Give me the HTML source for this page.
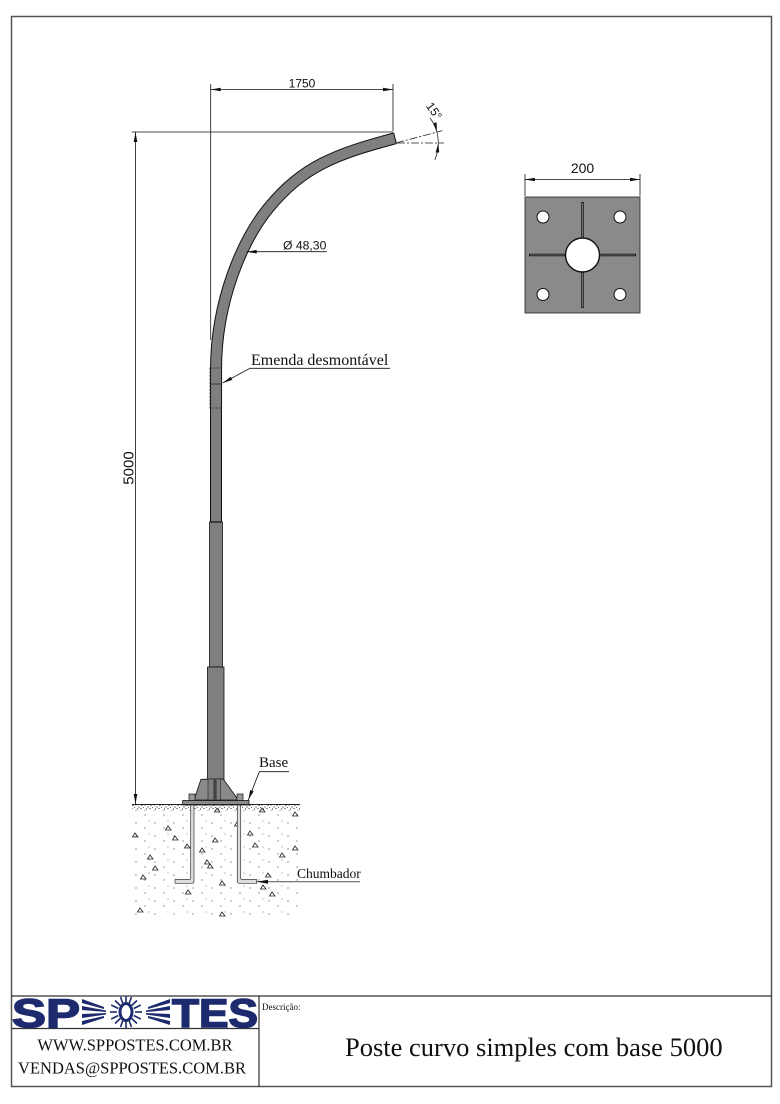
<!DOCTYPE html>
<html><head><meta charset="utf-8"><style>
html,body{margin:0;padding:0;background:#fff;}
svg{display:block;}
.sans{font-family:"Liberation Sans",Arial,sans-serif;}
.serif{font-family:"Liberation Serif","Times New Roman",serif;}
</style></head><body>
<svg width="780" height="1104" viewBox="0 0 780 1104" xmlns="http://www.w3.org/2000/svg">
<defs>
<pattern id="band" width="9" height="6" patternUnits="userSpaceOnUse">
<circle cx="1" cy="1" r="0.6" fill="#333"/><circle cx="4" cy="3" r="0.6" fill="#333"/><circle cx="7" cy="1.5" r="0.6" fill="#333"/><circle cx="2.5" cy="5" r="0.6" fill="#333"/><circle cx="6" cy="4.5" r="0.6" fill="#333"/><circle cx="8.5" cy="3.5" r="0.5" fill="#333"/>
</pattern>
<pattern id="sparse" width="19" height="13" patternUnits="userSpaceOnUse">
<circle cx="3" cy="4" r="0.6" fill="#555"/><circle cx="12" cy="9" r="0.6" fill="#555"/><circle cx="16" cy="2" r="0.5" fill="#666"/>
</pattern>
</defs>
<rect x="0" y="0" width="780" height="1104" fill="#fff"/>
<!-- frame -->
<rect x="11.5" y="16.5" width="760" height="1070" fill="none" stroke="#555" stroke-width="1.5"/>
<line x1="11.5" y1="996" x2="771.5" y2="996" stroke="#333" stroke-width="1.2"/>
<line x1="259" y1="996" x2="259" y2="1086.5" stroke="#333" stroke-width="1.2"/>
<line x1="11.5" y1="1028.5" x2="259" y2="1028.5" stroke="#333" stroke-width="1.2"/>

<!-- logo -->
<g fill="#1d2b6e">
<text x="12" y="1027" font-family="Liberation Sans,Arial,sans-serif" font-weight="bold" font-size="40" textLength="68" lengthAdjust="spacingAndGlyphs" stroke="#1d2b6e" stroke-width="1.5">SP</text>
<polygon points="82,999 104,1007 104,1009 82,1003"/>
<polygon points="82,1006 106,1010.5 106,1012 82,1010"/>
<polygon points="82,1014 106,1013 106,1014.5 82,1018"/>
<polygon points="82,1021 104,1016 104,1018 82,1025"/>
<g stroke="#1d2b6e" stroke-width="1.6">
<line x1="126" y1="1003" x2="126" y2="996"/><line x1="126" y1="1021" x2="126" y2="1028"/>
<line x1="117" y1="1012" x2="110" y2="1012"/><line x1="135" y1="1012" x2="142" y2="1012"/>
<line x1="129.1" y1="1003.5" x2="131.5" y2="997"/><line x1="122.9" y1="1003.5" x2="120.5" y2="997"/>
<line x1="129.1" y1="1020.5" x2="131.5" y2="1027"/><line x1="122.9" y1="1020.5" x2="120.5" y2="1027"/>
<line x1="131.7" y1="1005.5" x2="137" y2="1000.5"/><line x1="120.3" y1="1005.5" x2="115" y2="1000.5"/>
<line x1="131.7" y1="1018.5" x2="137" y2="1023.5"/><line x1="120.3" y1="1018.5" x2="115" y2="1023.5"/>
<line x1="133.8" y1="1008.5" x2="140.8" y2="1005"/><line x1="118.2" y1="1008.5" x2="111.2" y2="1005"/>
<line x1="133.8" y1="1015.5" x2="140.8" y2="1019"/><line x1="118.2" y1="1015.5" x2="111.2" y2="1019"/>
</g>
<ellipse cx="126" cy="1012" rx="6" ry="8.5" fill="#fff" stroke="#1d2b6e" stroke-width="3"/>
<polygon points="170,999 148,1007 148,1009 170,1003"/>
<polygon points="170,1006 146,1010.5 146,1012 170,1010"/>
<polygon points="170,1014 146,1013 146,1014.5 170,1018"/>
<polygon points="170,1021 148,1016 148,1018 170,1025"/>
<text x="172" y="1027" font-family="Liberation Sans,Arial,sans-serif" font-weight="bold" font-size="40" textLength="86" lengthAdjust="spacingAndGlyphs" stroke="#1d2b6e" stroke-width="1.5">TES</text>
</g>

<text x="135" y="1050.5" class="serif" font-size="16.5" text-anchor="middle" fill="#111">WWW.SPPOSTES.COM.BR</text>
<text x="132" y="1073.5" class="serif" font-size="16.5" text-anchor="middle" fill="#111">VENDAS@SPPOSTES.COM.BR</text>
<text x="262" y="1010" class="serif" font-size="9" fill="#111">Descrição:</text>
<text x="345" y="1056" class="serif" font-size="26.5" fill="#111">Poste curvo simples com base 5000</text>

<!-- dimension 1750 -->
<g stroke="#111" stroke-width="0.8" fill="none">
<line x1="210.7" y1="84" x2="210.7" y2="340"/>
<line x1="393" y1="84" x2="393" y2="131"/>
<line x1="210.7" y1="89.5" x2="393" y2="89.5"/>
<line x1="131.7" y1="132" x2="393" y2="132"/>
<line x1="135.5" y1="132" x2="135.5" y2="804"/>
</g>
<g fill="#111">
<polygon points="210.7,89.5 220.7,87.7 220.7,91.3"/>
<polygon points="393,89.5 383,87.7 383,91.3"/>
<polygon points="135.5,132 133.7,142 137.3,142"/>
<polygon points="135.5,804 133.7,794 137.3,794"/>
</g>
<text x="302" y="87.5" class="sans" font-size="12" text-anchor="middle" fill="#111">1750</text>
<text transform="translate(133.5,468) rotate(-90)" x="0" y="0" class="sans" font-size="15" text-anchor="middle" fill="#111">5000</text>

<!-- 15 degree -->
<g stroke="#222" stroke-width="0.8" fill="none">
<line x1="397" y1="143" x2="444" y2="143" stroke-dasharray="8 2 2 2"/>
<line x1="396" y1="143" x2="442.4" y2="130.6" stroke-dasharray="8 2 2 2"/>
<path d="M430.2,118.1 A42.3,42.3 0 0 1 434.8,159.9"/>
</g>
<g fill="#111">
<polygon points="436.9,132.1 433.2,123.2 436.6,122.4"/>
<polygon points="438.3,143 435.6,152.6 439.2,152.4"/>
</g>
<text transform="translate(434,111) rotate(55)" x="0" y="4" class="sans" font-size="12" text-anchor="middle" fill="#111">15°</text>

<!-- pole -->
<path d="M216,522 L216,370 C216,300 243,239.3 268.3,208.3 C303.1,165.7 337,153.8 395,138.3" fill="none" stroke="#111" stroke-width="12"/>
<path d="M216,523 L216,370 C216,300 243,239.3 268.3,208.3 C303.1,165.7 337,153.8 395,138.3" fill="none" stroke="#7f7f7f" stroke-width="10"/>
<line x1="393.6" y1="132.8" x2="396.4" y2="143.8" stroke="#111" stroke-width="1"/>

<!-- emenda -->
<rect x="210" y="368" width="11.7" height="40" fill="none" stroke="#222" stroke-width="0.8" stroke-dasharray="2 1.5"/>
<line x1="210" y1="384" x2="221.7" y2="384" stroke="#222" stroke-width="0.8"/>
<polyline points="222.7,383 250,368.3 390,368.3" fill="none" stroke="#111" stroke-width="0.8"/>
<polygon points="222.7,383 232.35,379.9 230.65,376.7" fill="#111"/>
<text x="251" y="365" class="serif" font-size="16" fill="#111">Emenda desmontável</text>

<!-- diameter -->
<line x1="246.7" y1="251.7" x2="326.7" y2="251.7" stroke="#111" stroke-width="0.8"/>
<polygon points="246.7,251.7 256.7,249.9 256.7,253.5" fill="#111"/>
<text x="283" y="249.5" class="sans" font-size="12.2" fill="#111">Ø 48,30</text>

<!-- lower segments -->
<rect x="209.5" y="522" width="13" height="145" fill="#7f7f7f" stroke="#111" stroke-width="0.8"/>
<rect x="207.5" y="667" width="16.5" height="133" fill="#7f7f7f" stroke="#111" stroke-width="0.8"/>
<line x1="210.5" y1="522" x2="221.5" y2="522" stroke="#111" stroke-width="1.2"/>

<!-- base -->
<polygon points="201,779.3 223.3,779 238.3,800 194,800" fill="#8a8a8a" stroke="#111" stroke-width="0.8"/>
<rect x="208" y="779" width="12.5" height="21" fill="#7f7f7f" stroke="#222" stroke-width="0.6"/>
<rect x="213.3" y="779" width="3.4" height="21" fill="#444"/>
<rect x="182.7" y="800.5" width="66.3" height="4.5" fill="#8a8a8a" stroke="#111" stroke-width="0.8"/>
<rect x="189" y="794" width="6" height="6.5" fill="#999" stroke="#111" stroke-width="0.7"/>
<rect x="237" y="794" width="6" height="6.5" fill="#999" stroke="#111" stroke-width="0.7"/>

<!-- ground -->
<line x1="132" y1="804.5" x2="300" y2="804.5" stroke="#222" stroke-width="1"/>
<rect x="132" y="805" width="168" height="6" fill="url(#band)"/>
<rect x="132" y="811" width="168" height="105" fill="url(#sparse)"/>
<g fill="none" stroke="#222" stroke-width="0.8">
<polygon points="135,833 138,837 132.5,837"/>
<polygon points="168,826 171,830 165.5,830"/>
<polygon points="175,836 178,840 172.5,840"/>
<polygon points="150,855 153,859 147.5,859"/>
<polygon points="155,866 158,870 152.5,870"/>
<polygon points="143,875 146,879 140.5,879"/>
<polygon points="215,838 218,842 212.5,842"/>
<polygon points="202,848 205,852 199.5,852"/>
<polygon points="210,864 213,868 207.5,868"/>
<polygon points="222,881 225,885 219.5,885"/>
<polygon points="188,890 191,894 185.5,894"/>
<polygon points="140,908 143,912 137.5,912"/>
<polygon points="222,912 225,916 219.5,916"/>
<polygon points="250,831 253,835 247.5,835"/>
<polygon points="255,843 258,847 252.5,847"/>
<polygon points="282,853 285,857 279.5,857"/>
<polygon points="295,846 298,850 292.5,850"/>
<polygon points="295,812 298,816 292.5,816"/>
<polygon points="262,808 265,812 259.5,812"/>
<polygon points="268,873 271,877 265.5,877"/>
<polygon points="263,885 266,889 260.5,889"/>
<polygon points="217,808 220,812 214.5,812"/>
<polygon points="187,844 190,848 184.5,848"/>
<polygon points="207,860 210,864 204.5,864"/>
<polygon points="237,822 240,826 234.5,826"/>
<polygon points="272,892 275,896 269.5,896"/>
</g>

<!-- bolts -->
<path d="M190.7,805 L190.7,878 Q190.7,879.5 189,879.5 L175,879.5 L175,883.3 L192,883.3 Q194,883.3 194,881 L194,805 Z" fill="#ddd" stroke="#333" stroke-width="0.7"/>
<path d="M237.3,805 L237.3,881 Q237.3,883.3 239.5,883.3 L256.7,883.3 L256.7,879.5 L242.5,879.5 Q240.7,879.5 240.7,878 L240.7,805 Z" fill="#ddd" stroke="#333" stroke-width="0.7"/>

<!-- Base label -->
<text x="259" y="767" class="serif" font-size="15" fill="#111">Base</text>
<polyline points="289,771.7 259.3,771.7 248.3,800" fill="none" stroke="#111" stroke-width="0.8"/>
<polygon points="248.3,800 253.6,791.4 250.2,790" fill="#111"/>

<!-- Chumbador -->
<text x="297" y="878" class="serif" font-size="13.5" fill="#111">Chumbador</text>
<line x1="257" y1="881.7" x2="360" y2="881.7" stroke="#666" stroke-width="1.2"/>
<polygon points="257,881.7 268,879.7 268,883.7" fill="#111"/>

<!-- base plate top view -->
<g stroke="#111" stroke-width="0.8" fill="none">
<line x1="525" y1="174" x2="525" y2="196"/>
<line x1="640" y1="174" x2="640" y2="196"/>
<line x1="525" y1="179.5" x2="640" y2="179.5"/>
</g>
<polygon points="525,179.5 535,177.7 535,181.3" fill="#111"/>
<polygon points="640,179.5 630,177.7 630,181.3" fill="#111"/>
<text x="582.5" y="173" class="sans" font-size="14" text-anchor="middle" fill="#111">200</text>
<rect x="525" y="197" width="115" height="116" fill="#8a8a8a" stroke="#222" stroke-width="0.8"/>
<g stroke="#111" stroke-width="2.4">
<line x1="582.5" y1="202" x2="582.5" y2="308"/>
<line x1="529" y1="255" x2="636" y2="255"/>
</g>
<g stroke="#8a8a8a" stroke-width="0.8">
<line x1="582.5" y1="203" x2="582.5" y2="307"/>
<line x1="530" y1="255" x2="635" y2="255"/>
</g>
<circle cx="582.5" cy="255" r="17" fill="#fff" stroke="#111" stroke-width="1.4"/>
<circle cx="543" cy="217" r="6" fill="#fff" stroke="#111" stroke-width="1"/>
<circle cx="620" cy="217" r="6" fill="#fff" stroke="#111" stroke-width="1"/>
<circle cx="543" cy="294.5" r="6" fill="#fff" stroke="#111" stroke-width="1"/>
<circle cx="620" cy="294.5" r="6" fill="#fff" stroke="#111" stroke-width="1"/>
</svg>
</body></html>
